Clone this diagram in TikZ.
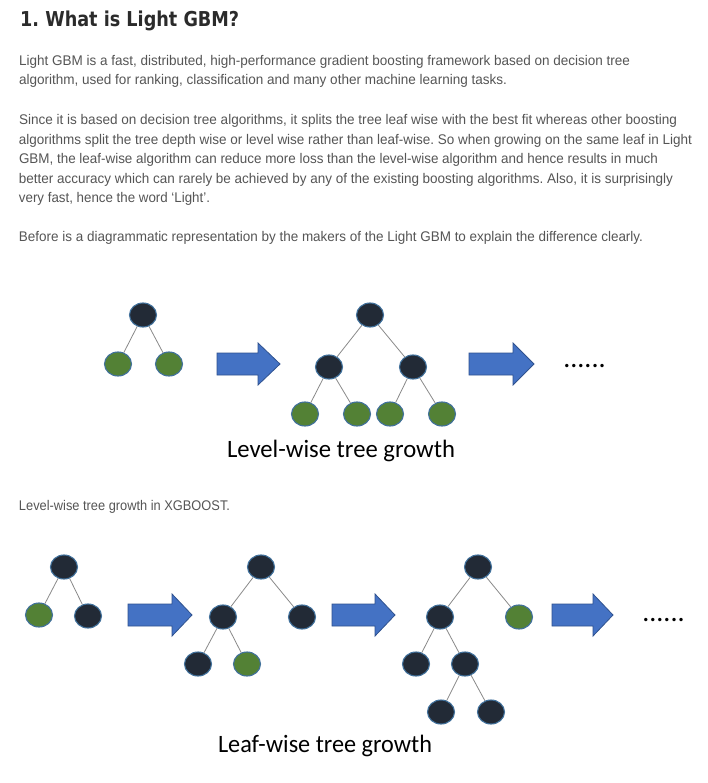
\documentclass[tikz,border=0pt]{standalone}
\usepackage{fontspec}
\usepackage{graphicx}
\usetikzlibrary{shapes.geometric}
\frenchspacing
\newfontfamily\bodyf{Liberation Sans}
\newfontfamily\titlef{DejaVu Sans}
\newfontfamily\diagf{Carlito}
\definecolor{bodygray}{HTML}{555555}
\definecolor{titlegray}{HTML}{2B2B2B}
\definecolor{nodedark}{HTML}{222A36}
\definecolor{nodeedge}{HTML}{41719C}
\definecolor{nodegreen}{HTML}{538135}
\definecolor{edgegray}{HTML}{8A8A8A}
\definecolor{arrowfill}{HTML}{4472C4}
\definecolor{arrowedge}{HTML}{2F528F}
\newcommand\bline[4]{\node[bodytext] (#1) at (19,#2) {\resizebox{#3pt}{\height}{\bodyf\fontsize{14}{16}\selectfont #4}};}
\newcommand\blockarrow[5]{\path[blockarr] (#1,#4-11) -- (#2,#4-11) -- (#2,#4-21) -- (#3,#4) -- (#2,#4+21) -- (#2,#4+11) -- (#1,#4+11) -- cycle;}
\begin{document}
\begin{tikzpicture}[x=1pt,y=-1pt,
  bodytext/.style={anchor=base west,inner sep=0,outer sep=0,text=bodygray},
  treenode/.style={ellipse,minimum width=27pt,minimum height=24pt,inner sep=0,draw=nodeedge,line width=1.1pt},
  dk/.style={treenode,fill=nodedark},
  gn/.style={treenode,fill=nodegreen},
  tedge/.style={draw=edgegray,line width=0.8pt},
  blockarr/.style={fill=arrowfill,draw=arrowedge,line width=0.8pt},
  diaglabel/.style={anchor=base west,inner sep=0,outer sep=0,text=black},
  dots/.style={anchor=base,inner sep=0,outer sep=0,text=black,font=\diagf\fontsize{28}{30}\selectfont}]
\useasboundingbox[fill=white] (0,0) rectangle (708,783);

% title
\node[anchor=base west,inner sep=0,text=titlegray] (title) at (20,27) {\resizebox{219pt}{\height}{\titlef\bfseries\fontsize{20.5}{24}\selectfont 1. What is Light GBM?}};

% body
\bline{l1}{65.5}{611}{Light GBM is a fast, distributed, high-performance gradient boosting framework based on decision tree}
\bline{l2}{85}{488}{algorithm, used for ranking, classification and many other machine learning tasks.}
\bline{l3}{125}{658}{Since it is based on decision tree algorithms, it splits the tree leaf wise with the best fit whereas other boosting}
\bline{l4}{144.5}{673}{algorithms split the tree depth wise or level wise rather than leaf-wise. So when growing on the same leaf in Light}
\bline{l5}{164}{639}{GBM, the leaf-wise algorithm can reduce more loss than the level-wise algorithm and hence results in much}
\bline{l6}{183.5}{654}{better accuracy which can rarely be achieved by any of the existing boosting algorithms. Also, it is surprisingly}
\bline{l7}{203}{191}{very fast, hence the word ‘Light’.}
\bline{l8}{242}{624}{Before is a diagrammatic representation by the makers of the Light GBM to explain the difference clearly.}
\bline{l9}{510}{211}{Level-wise tree growth in XGBOOST.}

% ---------- level-wise ----------
\node[dk] (t1r) at (143,315) {};
\node[gn] (t1a) at (118,364) {};
\node[gn] (t1b) at (169,364) {};
\draw[tedge] (t1r) -- (t1a);
\draw[tedge] (t1r) -- (t1b);

\blockarrow{217}{258}{280}{364}{}

\node[dk] (t2r) at (370,315) {};
\node[dk] (t2a) at (329,367) {};
\node[dk] (t2b) at (413,367) {};
\node[gn] (t2aa) at (305,414) {};
\node[gn] (t2ab) at (357,414) {};
\node[gn] (t2ba) at (390,414) {};
\node[gn] (t2bb) at (442,414) {};
\draw[tedge] (t2r) -- (t2a);
\draw[tedge] (t2r) -- (t2b);
\draw[tedge] (t2a) -- (t2aa);
\draw[tedge] (t2a) -- (t2ab);
\draw[tedge] (t2b) -- (t2ba);
\draw[tedge] (t2b) -- (t2bb);

\blockarrow{469}{513}{534}{364}{}
\node[dots] (dots1) at (584.5,367) {......};

\node[diaglabel] (lvl) at (227,457) {\resizebox{228pt}{\height}{\diagf\fontsize{25}{28}\selectfont Level-wise tree growth}};

% ---------- leaf-wise ----------
\node[dk] (b1r) at (64,567) {};
\node[gn] (b1a) at (39,615) {};
\node[dk] (b1b) at (88,616) {};
\draw[tedge] (b1r) -- (b1a);
\draw[tedge] (b1r) -- (b1b);

\blockarrow{128}{172}{192}{615}{}

\node[dk] (b2r) at (261,567) {};
\node[dk] (b2a) at (223,617) {};
\node[dk] (b2b) at (302,617) {};
\node[dk] (b2aa) at (198,664) {};
\node[gn] (b2ab) at (247,664) {};
\draw[tedge] (b2r) -- (b2a);
\draw[tedge] (b2r) -- (b2b);
\draw[tedge] (b2a) -- (b2aa);
\draw[tedge] (b2a) -- (b2ab);

\blockarrow{332}{375}{395}{615}{}

\node[dk] (b3r) at (478,567) {};
\node[dk] (b3a) at (440,617) {};
\node[gn] (b3b) at (519,617) {};
\node[dk] (b3aa) at (416,664) {};
\node[dk] (b3ab) at (465,664) {};
\node[dk] (b3aba) at (441,712) {};
\node[dk] (b3abb) at (491,712) {};
\draw[tedge] (b3r) -- (b3a);
\draw[tedge] (b3r) -- (b3b);
\draw[tedge] (b3a) -- (b3aa);
\draw[tedge] (b3a) -- (b3ab);
\draw[tedge] (b3ab) -- (b3aba);
\draw[tedge] (b3ab) -- (b3abb);

\blockarrow{552}{593}{613}{615}{}
\node[dots] (dots2) at (663.5,621) {......};

\node[diaglabel] (leaf) at (218,752) {\resizebox{214pt}{\height}{\diagf\fontsize{25}{28}\selectfont Leaf-wise tree growth}};
\end{tikzpicture}
\end{document}
